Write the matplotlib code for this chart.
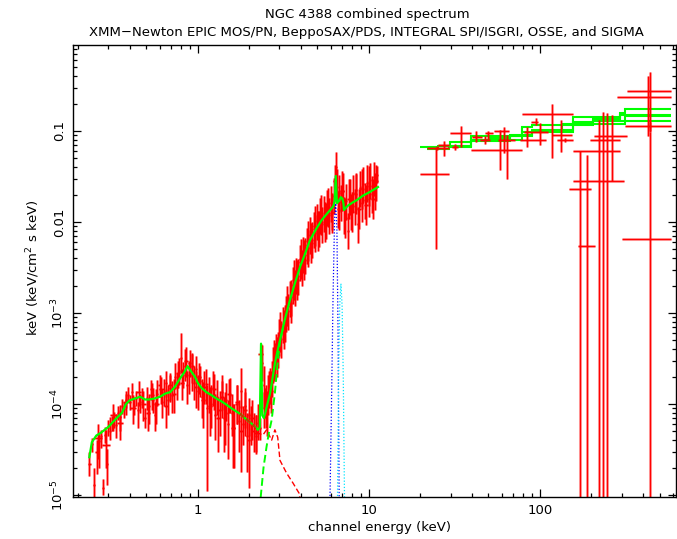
import matplotlib
matplotlib.use("Agg")
import matplotlib.pyplot as plt
import numpy as np

# XMM-Newton EPIC pn, soft band (keV, flux in 1e-4 keV^2/cm^2/s/keV)
soft_e = [0.232, 0.240, 0.248, 0.256, 0.263, 0.270, 0.278, 0.286, 0.293, 0.300,
          0.308, 0.316, 0.324, 0.333, 0.342, 0.351, 0.360, 0.370, 0.380, 0.390,
          0.400, 0.412, 0.424, 0.436, 0.448, 0.460, 0.474, 0.488, 0.502, 0.517,
          0.532, 0.548, 0.564, 0.580, 0.597, 0.615, 0.633, 0.652, 0.671, 0.690,
          0.710, 0.731, 0.752, 0.774, 0.797, 0.820, 0.844, 0.869, 0.894, 0.920,
          0.947, 0.975, 1.003, 1.032, 1.062, 1.093, 1.125, 1.158, 1.192, 1.227,
          1.263, 1.300, 1.338, 1.377, 1.417, 1.458, 1.500, 1.544, 1.589, 1.635,
          1.683, 1.732, 1.782, 1.834, 1.887, 1.942, 1.998, 2.056, 2.115, 2.176,
          2.238, 2.300, 2.360, 2.420, 2.480]
soft_f = [0.22, 0.36, 0.13, 0.30, 0.39, 0.44, 0.12, 0.46, 0.22, 0.55,
          0.50, 0.62, 0.70, 0.58, 0.80, 0.72, 0.95, 0.88, 1.10, 1.25,
          1.05, 1.35, 0.95, 1.15, 0.85, 1.05, 1.20, 0.70, 1.15, 0.95,
          1.45, 1.10, 0.75, 1.30, 1.60, 1.05, 1.35, 1.70, 1.10, 1.50,
          1.25, 2.00, 1.55, 2.30, 3.20, 2.10, 2.60, 1.60, 2.80, 2.30,
          1.70, 2.40, 1.40, 1.80, 1.20, 1.55, 0.90, 1.30, 1.00, 1.50,
          0.75, 1.20, 0.85, 1.35, 0.70, 1.10, 0.60, 1.25, 0.80, 0.55,
          1.00, 0.65, 1.40, 0.60, 0.95, 0.45, 0.75, 0.60, 0.50, 0.45,
          0.62, 0.55, 2.80, 1.60, 1.00]
soft_lo = [0.16, 0.30, 0.08, 0.17, 0.20, 0.33, 0.10, 0.37, 0.13, 0.44,
           0.40, 0.50, 0.55, 0.42, 0.66, 0.50, 0.78, 0.70, 0.90, 1.05,
           0.85, 1.10, 0.75, 0.95, 0.55, 0.80, 0.90, 0.55, 0.85, 0.60,
           1.10, 0.80, 0.50, 0.95, 1.20, 0.70, 0.95, 1.20, 0.75, 1.05,
           0.80, 1.45, 1.10, 1.60, 2.20, 1.50, 1.80, 1.00, 2.00, 1.40,
           1.10, 1.70, 0.85, 1.20, 0.70, 1.00, 0.11, 0.80, 0.55, 0.95,
           0.40, 0.75, 0.45, 0.85, 0.30, 0.65, 0.25, 0.80, 0.45, 0.20,
           0.60, 0.30, 0.90, 0.35, 0.55, 0.18, 0.45, 0.35, 0.30, 0.30,
           0.40, 0.40, 1.80, 0.90, 0.70]
soft_hi = [0.30, 0.42, 0.20, 0.40, 0.48, 0.52, 0.15, 0.56, 0.32, 0.66,
           0.72, 0.74, 0.82, 0.78, 0.95, 0.98, 1.12, 1.05, 1.30, 1.55,
           1.25, 1.70, 1.20, 1.40, 1.05, 1.30, 1.50, 0.90, 1.55, 1.30,
           1.85, 1.50, 1.05, 1.85, 2.10, 1.45, 1.90, 2.30, 1.60, 2.10,
           1.80, 2.80, 2.20, 3.20, 6.00, 2.90, 4.00, 2.30, 3.90, 3.50,
           2.60, 3.40, 2.10, 2.60, 1.90, 2.30, 1.60, 2.00, 1.60, 2.30,
           1.30, 1.85, 1.40, 2.10, 1.20, 1.70, 1.10, 1.95, 1.30, 1.00,
           1.60, 1.10, 2.50, 0.95, 1.50, 0.80, 1.15, 0.95, 0.80, 0.75,
           1.00, 0.70, 4.40, 2.60, 1.50]

# XMM-Newton EPIC MOS, soft band (flux in 1e-4)
mos_soft_e = [0.26, 0.29, 0.32, 0.35, 0.38, 0.42, 0.45, 0.48, 0.51, 0.54,
              0.57, 0.61, 0.65, 0.69, 0.73, 0.77, 0.81, 0.85, 0.89, 0.93,
              0.97, 1.02, 1.07, 1.12, 1.18, 1.24, 1.31, 1.38, 1.45, 1.53,
              1.61, 1.70, 1.79, 1.88, 1.98, 2.08, 2.19, 2.33, 2.45]
mos_soft_f = [0.42, 0.35, 0.75, 0.62, 1.05, 0.90, 1.35, 1.00, 0.80, 1.25,
              1.00, 1.45, 0.95, 1.60, 1.30, 2.20, 1.70, 3.00, 2.10, 2.60,
              1.55, 2.00, 1.10, 1.65, 0.95, 1.45, 0.70, 1.20, 0.80, 1.30,
              0.55, 1.05, 0.50, 0.85, 0.40, 0.70, 0.48, 3.50, 0.90]
mos_soft_lo = [0.25, 0.20, 0.50, 0.40, 0.75, 0.60, 0.95, 0.65, 0.50, 0.85,
               0.60, 1.00, 0.55, 1.10, 0.80, 1.50, 1.10, 2.00, 1.30, 1.70,
               0.90, 1.30, 0.55, 1.00, 0.45, 0.85, 0.30, 0.70, 0.35, 0.80,
               0.20, 0.60, 0.18, 0.45, 0.12, 0.40, 0.28, 2.40, 0.55]
mos_soft_hi = [0.60, 0.52, 1.00, 0.85, 1.40, 1.25, 1.80, 1.40, 1.15, 1.70,
               1.45, 2.00, 1.45, 2.20, 1.90, 3.00, 2.40, 4.20, 3.00, 3.60,
               2.30, 2.80, 1.75, 2.40, 1.55, 2.15, 1.20, 1.80, 1.35, 1.90,
               1.00, 1.60, 0.95, 1.35, 0.80, 1.10, 0.75, 4.60, 1.35]

# XMM-Newton EPIC pn, hard band (keV, flux in 1e-3)
hard_e = [2.50, 2.55, 2.60, 2.65, 2.70, 2.76, 2.82, 2.88, 2.94, 3.00,
          3.07, 3.14, 3.21, 3.28, 3.36, 3.44, 3.52, 3.60, 3.68, 3.77,
          3.86, 3.95, 4.04, 4.13, 4.23, 4.33, 4.43, 4.53, 4.64, 4.75,
          4.86, 4.97, 5.09, 5.21, 5.33, 5.45, 5.58, 5.71, 5.85, 5.98,
          6.12, 6.27, 6.41, 6.56, 6.71, 6.87, 7.03, 7.19, 7.36, 7.53,
          7.71, 7.89, 8.07, 8.26, 8.46, 8.66, 8.86, 9.07, 9.28, 9.50,
          9.72, 9.95, 10.2, 10.4, 10.7, 10.9, 11.2]
hard_f = [0.10, 0.085, 0.15, 0.16, 0.19, 0.27, 0.30, 0.38, 0.40, 0.55,
          0.52, 0.75, 0.78, 0.98, 1.05, 1.45, 1.50, 2.05, 1.90, 2.60,
          2.55, 3.60, 3.20, 4.40, 4.30, 5.60, 5.20, 7.20, 6.40, 8.40,
          7.60, 10.2, 8.60, 11.8, 9.50, 12.6, 10.5, 14.5, 11.8, 16.0,
          13.0, 19.5, 40.0, 14.0, 21.0, 16.5, 22.0, 12.0, 17.0, 8.00,
          19.0, 13.0, 21.0, 15.0, 22.5, 9.50, 23.5, 16.0, 26.0, 17.5,
          27.0, 18.0, 29.0, 20.5, 31.0, 22.0, 33.0]
hard_lo = [0.055, 0.045, 0.09, 0.10, 0.12, 0.17, 0.19, 0.24, 0.25, 0.34,
           0.32, 0.47, 0.48, 0.61, 0.65, 0.90, 0.93, 1.27, 1.18, 1.61,
           1.58, 2.23, 1.98, 2.73, 2.67, 3.47, 3.22, 4.46, 3.97, 5.21,
           4.71, 6.32, 5.33, 7.32, 5.89, 7.81, 6.51, 8.99, 7.32, 9.92,
           8.06, 12.1, 30.0, 8.68, 13.0, 10.2, 13.6, 7.44, 10.5, 5.00,
           11.8, 8.06, 13.0, 9.30, 14.0, 5.89, 14.6, 9.92, 16.1, 10.9,
           16.7, 11.2, 18.0, 12.7, 19.2, 13.6, 27.0]
hard_hi = [0.16, 0.14, 0.23, 0.25, 0.30, 0.42, 0.47, 0.59, 0.62, 0.85,
           0.81, 1.16, 1.21, 1.52, 1.63, 2.25, 2.33, 3.18, 2.95, 4.03,
           3.95, 5.58, 4.96, 6.82, 6.67, 8.68, 8.06, 11.2, 9.92, 13.0,
           11.8, 15.8, 13.3, 18.3, 14.7, 19.5, 16.3, 22.5, 18.3, 24.8,
           20.2, 30.2, 58.0, 21.7, 32.6, 25.6, 34.1, 18.6, 26.4, 12.4,
           29.5, 20.2, 32.6, 23.3, 34.9, 14.7, 36.4, 24.8, 40.3, 27.1,
           41.9, 27.9, 45.0, 31.8, 46.0, 34.1, 41.0]

# XMM-Newton EPIC MOS, hard band (flux in 1e-3)
mos_hard_e = [2.58, 2.68, 2.79, 2.91, 3.04, 3.17, 3.32, 3.48, 3.64, 3.81,
              3.99, 4.18, 4.38, 4.59, 4.81, 5.03, 5.27, 5.52, 5.78, 6.05,
              6.34, 6.48, 6.64, 6.95, 7.28, 7.62, 7.98, 8.36, 8.75, 9.17,
              9.60, 10.05, 10.55, 11.05]
mos_hard_f = [0.13, 0.14, 0.30, 0.33, 0.62, 0.66, 1.20, 1.30, 2.30, 2.30,
              3.90, 3.80, 6.20, 5.90, 9.00, 8.00, 12.0, 10.0, 14.5, 12.5,
              28.0, 24.0, 13.5, 22.0, 11.0, 18.0, 13.0, 20.5, 14.0, 23.0,
              15.5, 25.0, 18.0, 28.0]
mos_hard_lo = [0.075, 0.08, 0.18, 0.20, 0.37, 0.40, 0.72, 0.78, 1.38, 1.38,
               2.34, 2.28, 3.72, 3.54, 5.40, 4.80, 7.20, 6.00, 8.70, 7.50,
               19.6, 16.8, 8.10, 13.2, 6.60, 10.8, 7.80, 12.3, 8.40, 13.8,
               9.30, 15.0, 10.8, 16.8]
mos_hard_hi = [0.21, 0.23, 0.50, 0.54, 1.02, 1.09, 1.98, 2.15, 3.80, 3.80,
               6.44, 6.27, 10.2, 9.74, 14.9, 13.2, 19.8, 16.5, 23.9, 20.6,
               42.0, 38.0, 22.3, 36.3, 18.2, 29.7, 21.5, 33.8, 23.1, 38.0,
               25.6, 41.3, 29.7, 42.0]

# PDS / SPI / ISGRI / OSSE / SIGMA points: centre, bin edges, flux and error bounds
hx_e   = [24.6, 25.0, 27.4, 31.8, 34.4, 42.0, 47.7, 50.0, 58.5, 61.5, 64.0, 84.0, 95.0, 100.0,
          117.5, 133.0, 140.0, 171.0, 188.0, 221.0, 235.0, 245.0, 265.0, 440.0, 430.0, 440.0, 440.0]
hx_elo = [19.9, 21.9, 25.5, 30.5, 29.8, 39.8, 44.6, 47.5, 39.5, 54.0, 57.0, 81.0, 89.0, 76.5,
          78.5, 117.0, 125.0, 148.0, 167.0, 156.0, 156.0, 206.0, 196.0, 322.0, 281.0, 316.0, 300.0]
hx_ehi = [29.4, 29.5, 29.5, 33.2, 39.5, 46.0, 51.3, 52.8, 78.5, 66.0, 71.0, 111.0, 98.0, 109.0,
          156.0, 153.0, 156.0, 198.0, 209.0, 294.0, 311.0, 323.0, 294.0, 585.0, 585.0, 585.0, 585.0]
hx_f   = [0.034, 0.065, 0.070, 0.067, 0.095, 0.086, 0.080, 0.095, 0.062, 0.100, 0.080, 0.098, 0.127, 0.080,
          0.154, 0.090, 0.080, 0.023, 0.0055, 0.060, 0.028, 0.088, 0.080, 0.276, 0.239, 0.113, 0.0065]
hx_lo  = [0.005, 0.061, 0.053, 0.062, 0.067, 0.075, 0.072, 0.080, 0.037, 0.057, 0.030, 0.067, 0.116, 0.070,
          0.050, 0.059, 0.076, 1e-6, 1e-6, 1e-6, 1e-6, 1e-6, 0.028, 0.098, 0.087, 0.100, 1e-6]
hx_hi  = [0.065, 0.069, 0.077, 0.072, 0.114, 0.100, 0.088, 0.100, 0.103, 0.111, 0.090, 0.111, 0.139, 0.122,
          0.198, 0.132, 0.084, 0.060, 0.054, 0.132, 0.163, 0.158, 0.150, 0.45, 0.40, 0.125, 0.098]

# total model for the XMM data (flux in 1e-4)
mod_e = [0.232, 0.240, 0.255, 0.270, 0.300, 0.330, 0.360, 0.380, 0.400, 0.430,
         0.460, 0.490, 0.520, 0.560, 0.600, 0.645, 0.690, 0.735, 0.785, 0.830,
         0.870, 0.910, 0.960, 1.000, 1.050, 1.120, 1.200, 1.280, 1.360, 1.450,
         1.540, 1.640, 1.760, 1.880, 2.000, 2.120, 2.240, 2.300, 2.340, 2.380,
         2.430, 2.470, 2.550, 2.640, 2.730, 2.820, 2.920, 3.020, 3.200, 3.450,
         3.700, 3.950, 4.200, 4.520, 4.900, 5.300, 5.700, 6.070, 6.200, 6.300,
         6.400, 6.500, 6.650, 6.860, 7.000, 7.100, 7.140, 7.500, 8.000, 8.500,
         9.200, 10.10, 11.30]
mod_f = [0.26, 0.38, 0.45, 0.48, 0.56, 0.68, 0.80, 1.00, 1.10, 1.15,
         1.20, 1.12, 1.12, 1.15, 1.20, 1.30, 1.35, 1.55, 1.90, 2.20,
         2.60, 2.30, 2.00, 1.70, 1.50, 1.35, 1.25, 1.15, 1.08, 1.00,
         0.92, 0.85, 0.78, 0.70, 0.64, 0.58, 0.52, 0.55, 4.60, 0.75,
         0.70, 0.78, 1.00, 1.30, 1.90, 2.79, 3.80, 5.00, 8.00, 13.8,
         21.5, 31.8, 43.0, 63.0, 83.0, 105.0, 124.0, 142.0, 150.0, 170.0,
         320.0, 161.0, 168.0, 187.0, 180.0, 160.0, 135.0, 150.0, 163.0, 174.0,
         194.0, 213.0, 242.0]

# model components (flux in 1e-4)
scat_e = [1.76, 1.88, 2.00, 2.12, 2.24, 2.40, 2.52, 2.70, 2.82, 2.93, 3.02, 3.30, 3.60, 3.90, 3.97]
scat_f = [0.78, 0.70, 0.64, 0.58, 0.48, 0.455, 0.52, 0.40, 0.52, 0.43, 0.24, 0.174, 0.135, 0.105, 0.090]
pl_e = [2.30, 2.33, 2.42, 2.52, 2.60, 2.70, 2.82, 2.92, 3.02, 3.20]
pl_f = [0.07, 0.095, 0.20, 0.338, 0.48, 0.667, 1.32, 2.70, 4.90, 7.80]
feka_e = [5.92, 6.05, 6.17, 6.30, 6.40, 6.50, 6.60, 6.70]
feka_f = [0.09, 1.2, 15.0, 110.0, 160.0, 80.0, 6.0, 0.09]
fekb_e = [6.55, 6.65, 6.75, 6.86, 6.97, 7.08, 7.20]
fekb_f = [0.09, 2.0, 12.0, 21.0, 12.0, 2.0, 0.09]

# high-energy model histograms (bin edges, flux)
hmod_edges = [
    [19.9, 25.5, 29.7, 39.3, 50.6, 78.8, 89.3, 133.7, 156.0, 294.0, 316.0, 580.0],
    [21.9, 29.5, 39.3, 50.6, 66.7, 89.3, 156.0, 205.0, 580.0],
    [39.8, 66.7, 89.3, 133.7, 205.0, 294.0, 580.0],
    [25.5, 39.3, 78.8, 156.0, 316.0, 580.0],
]
hmod_vals = [
    [0.066, 0.068, 0.075, 0.087, 0.089, 0.111, 0.116, 0.119, 0.142, 0.157, 0.175],
    [0.063, 0.066, 0.080, 0.083, 0.090, 0.103, 0.127, 0.129],
    [0.078, 0.088, 0.100, 0.115, 0.135, 0.150],
    [0.068, 0.080, 0.098, 0.120, 0.146],
]


def bin_edges(e):
    e = np.asarray(e)
    mid = np.sqrt(e[:-1] * e[1:])
    lo = np.concatenate([[e[0] ** 2 / mid[0]], mid])
    hi = np.concatenate([mid, [e[-1] ** 2 / mid[-1]]])
    return lo, hi


def draw_points(ax, e, elo, ehi, f, flo, fhi):
    e, elo, ehi = np.asarray(e), np.asarray(elo), np.asarray(ehi)
    f, flo, fhi = np.asarray(f), np.asarray(flo), np.asarray(fhi)
    xerr = [e - elo, ehi - e]
    yerr = [f - flo, fhi - f]
    ax.errorbar(e, f, xerr=xerr, yerr=yerr, fmt='none', ecolor='#ff0000',
                elinewidth=2.2, alpha=0.3, capsize=0)
    ax.errorbar(e, f, xerr=xerr, yerr=yerr, fmt='none', ecolor='#ff0000',
                elinewidth=1.0, capsize=0)


def draw_binned(ax, e, f, flo, fhi, scale):
    lo, hi = bin_edges(e)
    draw_points(ax, e, lo, hi, np.array(f) * scale,
                np.array(flo) * scale, np.array(fhi) * scale)


plt.rcParams['font.family'] = 'DejaVu Sans'
plt.rcParams['font.size'] = 9.5

fig = plt.figure(figsize=(6.77, 5.39), dpi=100)
ax = fig.add_axes([0.1083, 0.0774, 0.8902, 0.8391])
ax.set_xscale('log')
ax.set_yscale('log')

draw_binned(ax, mos_soft_e, mos_soft_f, mos_soft_lo, mos_soft_hi, 1e-4)
draw_binned(ax, soft_e, soft_f, soft_lo, soft_hi, 1e-4)
draw_binned(ax, mos_hard_e, mos_hard_f, mos_hard_lo, mos_hard_hi, 1e-3)
draw_binned(ax, hard_e, hard_f, hard_lo, hard_hi, 1e-3)
draw_points(ax, hx_e, hx_elo, hx_ehi, hx_f, hx_lo, hx_hi)

# model and components
ax.plot(mod_e, np.array(mod_f) * 1e-4, color='#00ff00', lw=1.6)
ax.plot(scat_e, np.array(scat_f) * 1e-4, color='#ff0000', lw=1.0, ls=(0, (4, 2)))
ax.plot(pl_e, np.array(pl_f) * 1e-4, color='#00ff00', lw=1.4, ls=(0, (4, 2)))
ax.plot(feka_e, np.array(feka_f) * 1e-4, color='#0000ff', lw=0.9, ls=(0, (1, 1.5)))
ax.plot(fekb_e, np.array(fekb_f) * 1e-4, color='#00e5ff', lw=0.9, ls=(0, (1, 1.5)))

for edges, vals in zip(hmod_edges, hmod_vals):
    ax.stairs(vals, edges, color='#00ff00', lw=1.5, baseline=None)

ax.set_xlim(0.187, 624)
ax.set_ylim(0.943e-5, 0.88)

ax.set_xticks([1, 10, 100])
ax.set_xticklabels(['1', '10', '100'])
ax.set_yticks([1e-5, 1e-4, 1e-3, 0.01, 0.1])
ax.set_yticklabels(['10$^{-5}$', '10$^{-4}$', '10$^{-3}$', '0.01', '0.1'])
ax.tick_params(which='both', direction='in', top=True, right=True, width=0.9)
ax.tick_params(which='major', length=5.5)
ax.tick_params(which='minor', length=3)
ax.tick_params(axis='x', pad=5)
ax.tick_params(axis='y', labelrotation=90, pad=5)
for lab in ax.get_yticklabels():
    lab.set_va('center')
for s in ax.spines.values():
    s.set_linewidth(1.0)

fig.text(0.542, 0.974, 'NGC 4388 combined spectrum', ha='center', va='center')
fig.text(0.542, 0.939, 'XMM\u2212Newton EPIC MOS/PN, BeppoSAX/PDS, INTEGRAL SPI/ISGRI, OSSE, and SIGMA',
         ha='center', va='center')
fig.text(0.561, 0.022, 'channel energy (keV)', ha='center', va='center')
fig.text(0.049, 0.503, 'keV (keV/cm$^2$ s keV)', ha='center', va='center', rotation=90)

fig.savefig('out.png', dpi=100)
